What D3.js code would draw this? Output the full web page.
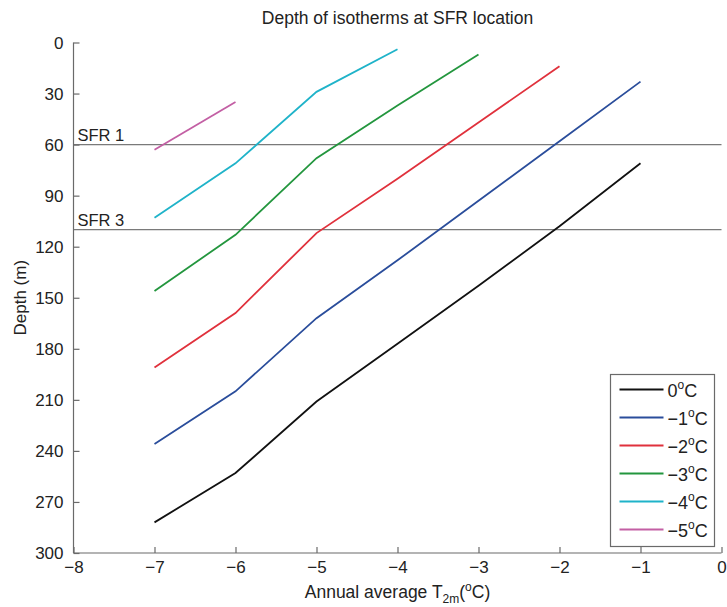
<!DOCTYPE html>
<html><head><meta charset="utf-8">
<script src="https://cdn.jsdelivr.net/npm/d3@7"></script>
<style>body{margin:0;background:#fff}svg{display:block}text{font-family:"Liberation Sans",Arial,sans-serif;fill:#222}</style>
</head><body><svg id="c" width="727" height="607"></svg>
<script>
const temps = [-7, -6, -5, -4, -3, -2, -1];
const isoLabels = ["0", "\u22121", "\u22122", "\u22123", "\u22124", "\u22125"];
const isoColors = ["#111111", "#2a4d9b", "#e0313c", "#23963e", "#1fb3c9", "#c35fa4"];
const depth0 = [282, 253, 211, 177, 143, 108, 71];
const depthM1 = [236, 205, 162, 128, 93, 58, 23];
const depthM2 = [191, 159, 112, 80, 47, 14];
const depthM3 = [146, 113, 68, 37, 7];
const depthM4 = [103, 71, 29, 4];
const depthM5 = [63, 35];
const seriesDepths = [depth0, depthM1, depthM2, depthM3, depthM4, depthM5];
const xTicks = [-8, -7, -6, -5, -4, -3, -2, -1, 0];
const yTicks = [0, 30, 60, 90, 120, 150, 180, 210, 240, 270, 300];
const refDepths = [60, 110];
const refLabels = ["SFR 1", "SFR 3"];

const svg = d3.select("#c");
const L = 73.5, R = 721.5, T = 42.5, B = 553;
const x = d3.scaleLinear().domain([-8, 0]).range([L, R]);
const y = d3.scaleLinear().domain([0, 300]).range([T, B]);
const axisCol = "#6a6a6a";

// reference lines
refDepths.forEach((d, i) => {
  svg.append("line").attr("x1", L).attr("x2", R).attr("y1", y(d)).attr("y2", y(d))
    .attr("stroke", "#7a7a7a").attr("stroke-width", 1.2);
  svg.append("text").attr("x", L + 4).attr("y", y(d) - 4).attr("font-size", 16.5).text(refLabels[i]);
});

// axes
const xAxis = d3.axisBottom(x).tickValues(xTicks).tickSize(-6).tickPadding(10)
  .tickFormat(d => d < 0 ? "\u2212" + Math.abs(d) : d);
const gx = svg.append("g").attr("transform", `translate(0,${B})`).call(xAxis);
const yAxis = d3.axisLeft(y).tickValues(yTicks).tickSize(-6).tickPadding(10);
const gy = svg.append("g").attr("transform", `translate(${L},0)`).call(yAxis);
[gx, gy].forEach(g => {
  g.select(".domain").attr("stroke", axisCol).attr("stroke-width", 1.2);
  g.selectAll(".tick line").attr("stroke", axisCol).attr("stroke-width", 1.2);
  g.selectAll(".tick text").attr("font-size", 17).attr("fill", "#222")
    .attr("font-family", '"Liberation Sans",Arial,sans-serif');
});
gx.select(".domain").attr("d", `M${L},0H${R}`);
gy.select(".domain").attr("d", `M0,${T}V${B}`);
gx.selectAll(".tick text").attr("dy", "0.6em");
gy.selectAll(".tick text").attr("dy", "0.35em");

// series
const line = d3.line().x(d => x(d[0])).y(d => y(d[1]));
seriesDepths.forEach((arr, i) => {
  const pts = arr.map((v, j) => [temps[j], v]);
  svg.append("path").attr("d", line(pts)).attr("fill", "none")
    .attr("stroke", isoColors[i]).attr("stroke-width", 1.8);
});

// title
svg.append("text").attr("x", (L + R) / 2).attr("y", 24).attr("text-anchor", "middle")
  .attr("font-size", 17.5).text("Depth of isotherms at SFR location");

// y label
svg.append("text").attr("transform", `translate(26,${(T + B) / 2}) rotate(-90)`)
  .attr("text-anchor", "middle").attr("font-size", 17).text("Depth (m)");

// x label
const xl = svg.append("text").attr("x", (L + R) / 2).attr("y", 598).attr("text-anchor", "middle").attr("font-size", 17.5);
xl.append("tspan").text("Annual average T");
xl.append("tspan").attr("font-size", 12).attr("dy", 5).text("2m");
xl.append("tspan").attr("dy", -5).text("(");
xl.append("tspan").attr("font-size", 12).attr("dy", -7).text("o");
xl.append("tspan").attr("dy", 7).text("C)");

// legend
const lgX = 610.5, lgY = 374.5, lgW = 104, lgH = 172, rowH = 28;
svg.append("rect").attr("x", lgX).attr("y", lgY).attr("width", lgW).attr("height", lgH)
  .attr("fill", "#fff").attr("stroke", axisCol).attr("stroke-width", 1.2);
isoLabels.forEach((lab, i) => {
  const yy = lgY + 15 + i * rowH;
  svg.append("line").attr("x1", lgX + 9).attr("x2", lgX + 53).attr("y1", yy).attr("y2", yy)
    .attr("stroke", isoColors[i]).attr("stroke-width", 1.8);
  const t = svg.append("text").attr("x", lgX + 57).attr("y", yy + 7).attr("font-size", 18);
  t.append("tspan").text(lab);
  t.append("tspan").attr("font-size", 12).attr("dy", -8).text("o");
  t.append("tspan").attr("dy", 8).text("C");
});
</script></body></html>
